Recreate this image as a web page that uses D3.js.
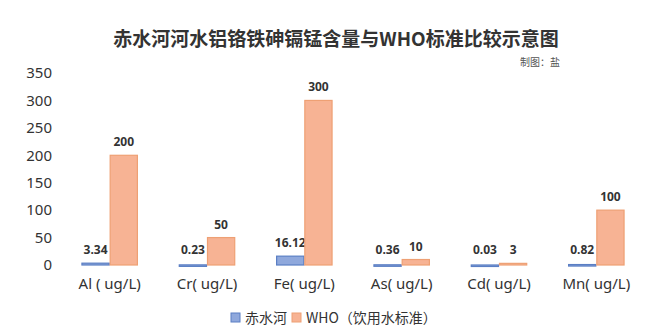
<!DOCTYPE html>
<html>
<head>
<meta charset="utf-8">
<script src="https://cdn.jsdelivr.net/npm/d3@7"></script>
<style>
  body { margin: 0; background: #fff; }
  svg { display: block; font-family: "Noto Sans CJK SC", "Noto Sans", sans-serif; }
</style>
</head>
<body>
<svg id="chart" width="650" height="331"></svg>
<script>
// DATA
// --------------------------------------
var categories = ['Al ( ug/L)', 'Cr( ug/L)', 'Fe( ug/L)', 'As( ug/L)', 'Cd( ug/L)', 'Mn( ug/L)'];
var riverValues = [3.34, 0.23, 16.12, 0.36, 0.03, 0.82];
var whoValues = [200, 50, 300, 10, 3, 100];
var yTicks = [0, 50, 100, 150, 200, 250, 300, 350];
var seriesNames = ['赤水河', 'WHO（饮用水标准）'];

// CONFIG
// --------------------------------------
var W = 650, H = 331;
var plot = { left: 61, right: 645, top: 73, bottom: 265 };
var colors = [
    { fill: '#8fa8dc', stroke: '#5b7fc4' },
    { fill: '#f7b394', stroke: '#eea074' }
];

var svg = d3.select('#chart');

// title
svg.append('text')
    .attr('x', 336).attr('y', 46)
    .attr('text-anchor', 'middle')
    .attr('font-size', 19).attr('font-weight', 'bold')
    .attr('fill', '#333')
    .text('赤水河河水铝铬铁砷镉锰含量与WHO标准比较示意图');

svg.append('text')
    .attr('x', 560).attr('y', 66)
    .attr('text-anchor', 'end')
    .attr('font-size', 10)
    .attr('fill', '#555')
    .text('制图：盐');

// scales
var x0 = d3.scaleBand().domain(categories)
    .range([plot.left, plot.right]).paddingInner(0.42).paddingOuter(0.21);
var x1 = d3.scaleBand().domain([0, 1]).range([0, x0.bandwidth()]);
var y = d3.scaleLinear().domain([0, 350]).range([plot.bottom, plot.top]);

// y axis (labels only)
var yAxis = svg.append('g')
    .attr('transform', 'translate(' + 52 + ',0)')
    .call(d3.axisLeft(y).tickValues(yTicks).tickSize(0).tickPadding(0));
yAxis.select('.domain').remove();
yAxis.selectAll('text')
    .attr('font-size', 15).attr('fill', '#333')
    .attr('font-family', '"Noto Sans", sans-serif');

// x axis labels
var xAxis = svg.append('g')
    .attr('transform', 'translate(0,' + plot.bottom + ')')
    .call(d3.axisBottom(x0).tickSize(0).tickPadding(13));
xAxis.select('.domain').remove();
xAxis.selectAll('text')
    .attr('font-size', 15).attr('fill', '#333')
    .attr('font-family', '"Noto Sans", sans-serif');

// bars
var series = [riverValues, whoValues];
series.forEach(function(vals, s){
    var g = svg.append('g');
    g.selectAll('rect').data(vals).enter().append('rect')
        .attr('x', function(d, i){ return x0(categories[i]) + x1(s) + 0.5; })
        .attr('y', function(d){ return y(d); })
        .attr('width', x1.bandwidth() - 1)
        .attr('height', function(d){ return Math.max(1.5, plot.bottom - y(d)); })
        .attr('fill', colors[s].fill)
        .attr('stroke', colors[s].stroke)
        .attr('stroke-width', 1.2);

    g.selectAll('text').data(vals).enter().append('text')
        .attr('x', function(d, i){ return x0(categories[i]) + x1(s) + x1.bandwidth() / 2; })
        .attr('y', function(d){ return Math.min(y(d), plot.bottom - 2) - 9; })
        .attr('text-anchor', 'middle')
        .attr('font-size', 12).attr('font-weight', 'bold')
        .attr('fill', '#333')
        .attr('font-family', '"Noto Sans", sans-serif')
        .text(function(d){ return d; });
});

// legend
var legend = svg.append('g').attr('transform', 'translate(231,318)');
var lx = 0;
seriesNames.forEach(function(name, s){
    legend.append('rect')
        .attr('x', lx).attr('y', -5)
        .attr('width', 9).attr('height', 9)
        .attr('fill', colors[s].fill)
        .attr('stroke', colors[s].stroke);
    var t = legend.append('text')
        .attr('x', lx + 14).attr('y', 5)
        .attr('font-size', 14).attr('fill', '#333')
        .text(name);
    lx += 14 + t.node().getComputedTextLength() + 5;
});
</script>
</body>
</html>
